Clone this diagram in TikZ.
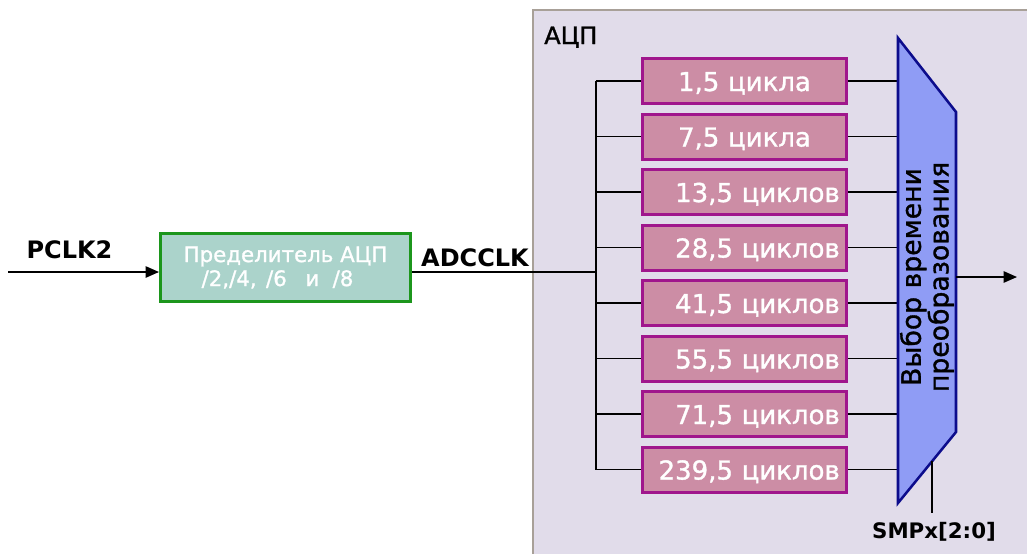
\documentclass[tikz,border=0pt]{standalone}
\usepackage{fontspec}
\setmainfont{DejaVu Sans}
\newfontfamily\semibf[FakeBold=1.2]{DejaVu Sans}
\usetikzlibrary{arrows.meta}
\definecolor{adcfill}{HTML}{E1DCEA}
\definecolor{adcline}{HTML}{A8A098}
\definecolor{prefill}{HTML}{ABD3CB}
\definecolor{preline}{HTML}{1C961C}
\definecolor{cycfill}{HTML}{CC8DA5}
\definecolor{cycline}{HTML}{A0168C}
\definecolor{muxfill}{HTML}{8F9CF5}
\definecolor{muxline}{HTML}{0C0C8C}
\begin{document}
\begin{tikzpicture}[x=0.75pt,y=-0.75pt,
  wire/.style={draw=black,line width=1.1pt},
  arr/.style={wire,-{Triangle[length=10pt,width=8.5pt]}},
  cycbox/.style={draw=cycline,fill=cycfill,line width=2.25pt,minimum width=153pt,
    minimum height=33.75pt,inner sep=0pt,text=white,
    font=\semibf\fontsize{19.5}{20}\selectfont,text height=15pt,text depth=0pt,
    text width=143pt,align=right},
  cycboxc/.style={cycbox,align=center},
  prebox/.style={draw=preline,fill=prefill,line width=2.25pt,minimum width=187.5pt,
    minimum height=51pt,inner sep=0pt,text=white,align=center,
    font=\semibf\fontsize{16}{18}\selectfont},
  muxst/.style={draw=muxline,fill=muxfill,line width=1.9pt,line join=miter},
  lbl/.style={inner sep=0pt,anchor=base,font=\bfseries\fontsize{18}{20}\selectfont}
]
\useasboundingbox (0,0) rectangle (1027,553);
% ADC frame
\draw[draw=adcline,fill=adcfill,line width=1.5pt] (533,10) rectangle (1040,570);
\node[inner sep=0pt,anchor=base west,font=\semibf\fontsize{18}{20}\selectfont] (adc) at (544,44) {АЦП};
% prescaler
\node[prebox] (pre) at (285.5,267.5) {Пределитель АЦП\\/2,/4,\hspace{7pt}/6\hspace{14pt}и\hspace{10pt}/8\hspace*{12pt}};
\coordinate (in) at (8,272);
\coordinate (clk) at (596,272);
\coordinate (bus) at (596,0);
\node[lbl] (pclk) at (69.5,258) {PCLK2};
\node[lbl] (adcclk) at (475,266) {ADCCLK};
\draw[arr] (in) -- (in -| pre.west);
\draw[wire] (pre.east |- clk) -- (clk);
% cycle boxes
\node[cycboxc] (c1) at (744.5,81) {1,5 цикла};
\node[cycboxc] (c2) at (744.5,136.5) {7,5 цикла};
\node[cycbox] (c3) at (744.5,192) {13,5 циклов};
\node[cycbox] (c4) at (744.5,247.5) {28,5 циклов};
\node[cycbox] (c5) at (744.5,303) {41,5 циклов};
\node[cycbox] (c6) at (744.5,358.5) {55,5 циклов};
\node[cycbox] (c7) at (744.5,414) {71,5 циклов};
\node[cycbox] (c8) at (744.5,469.5) {239,5 циклов};
% mux
\coordinate (m1) at (898,38);
\coordinate (m2) at (956,112);
\coordinate (m3) at (956,432);
\coordinate (m4) at (898,503);
\draw[wire] (bus |- c1.west) -- (bus |- c8.west);
\foreach \i in {1,...,8}{
  \draw[wire] (bus |- c\i.west) -- (c\i.west);
  \draw[wire] (c\i.east) -- (c\i.east -| m1);
}
\draw[muxst] (m1) -- (m2) -- (m3) -- (m4) -- cycle;
\node[rotate=90,inner sep=0pt,align=center,font=\semibf\fontsize{20}{18.75}\selectfont] (muxt) at (927,277) {Выбор времени\\преобразования};
\coordinate (out) at (1017,277);
\draw[arr] (m2 |- out) -- (out);
% SMP
\coordinate (s1) at (932,461);
\coordinate (s2) at (932,513);
\draw[wire] (s1) -- (s2);
\node[lbl,font=\bfseries\fontsize{16}{18}\selectfont] (smp) at (934,538) {SMPx[2:0]};
\end{tikzpicture}
\end{document}
